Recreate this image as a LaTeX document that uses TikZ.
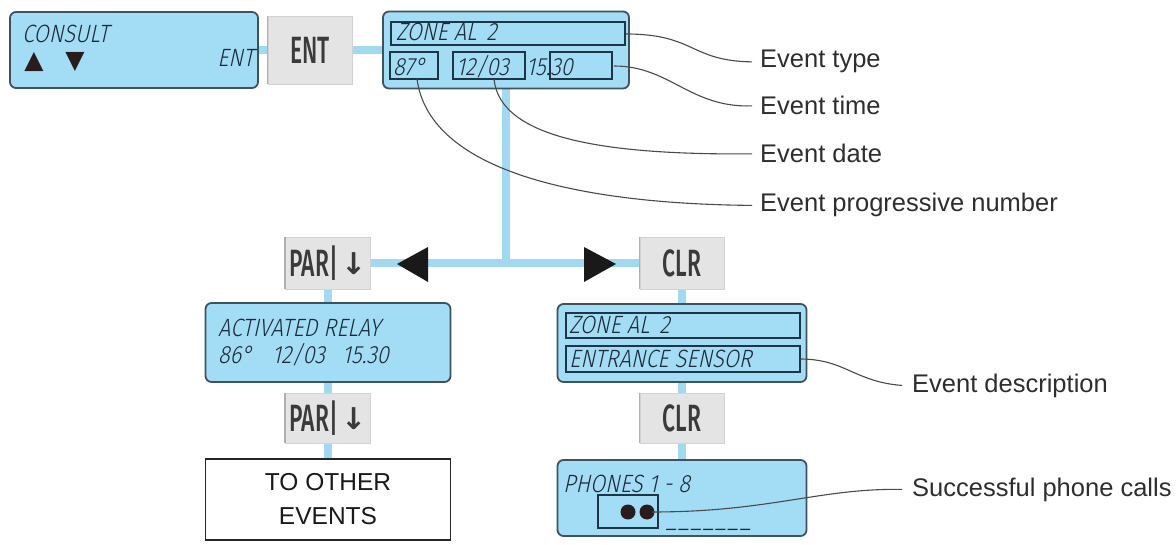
\documentclass[tikz,border=0pt]{standalone}
\usepackage{fontspec}
\usetikzlibrary{backgrounds}
\newfontfamily\lcdf{Fira Sans}[UprightFont={* Light},FakeSlant=0.22,FakeStretch=0.87]
\newfontfamily\labf{Liberation Sans}
\newfontfamily\btnf{Fira Sans}[UprightFont={* Medium},FakeStretch=0.6]
\newfontfamily\dvf{DejaVu Sans}
\definecolor{lcdfill}{HTML}{A3DCF5}
\definecolor{lcdborder}{HTML}{3E5260}
\definecolor{segline}{HTML}{1E3547}
\definecolor{lcdtxt}{HTML}{1B2A38}
\definecolor{wirecol}{HTML}{A2D9F1}
\definecolor{btnfill}{HTML}{E4E4E4}
\definecolor{btnline}{HTML}{D2D2D2}
\definecolor{btnedge}{HTML}{AFAFAF}
\definecolor{btntext}{HTML}{3A3A3A}
\definecolor{labtxt}{HTML}{2E2E2E}
\definecolor{leadcol}{HTML}{4A4A4A}
\definecolor{dotcol}{HTML}{2A1C1C}
\newcommand{\pardown}{PAR|\hspace{3pt}\raisebox{2pt}{\dvf\bfseries\fontsize{30}{30}\selectfont ↓}}
\begin{document}
\begin{tikzpicture}[x=1pt,y=-1pt,
  lcd/.style={draw=lcdborder,fill=lcdfill,line width=1.8pt,rounded corners=6pt,inner sep=0pt},
  btn/.style={fill=btnfill,draw=btnline,line width=0.8pt,inner sep=0pt,text=btntext,
    font=\btnf\fontsize{38}{38}\selectfont},
  seg/.style={draw=segline,line width=1.8pt},
  lcdtext/.style={font=\lcdf\fontsize{25}{28}\selectfont,text=lcdtxt,anchor=base west,inner sep=0pt},
  lab/.style={font=\labf\fontsize{25.5}{30}\selectfont,text=labtxt,anchor=base west,inner sep=0pt},
  lead/.style={draw=leadcol,line width=1.1pt},
  wire/.style={draw=wirecol,line width=8pt},
  arrowsym/.style={font=\dvf\fontsize{25}{25}\selectfont,text=dotcol,anchor=base,inner sep=0pt,
    text height=18pt,text depth=0pt},
  tri/.style={fill=black!90}]
\useasboundingbox (0,0) rectangle (1176,545);

% ---------- boxes ----------
\node[lcd,minimum width=248pt,minimum height=76pt] (consult) at (134,50) {};
\node[btn,minimum width=84pt,minimum height=68pt] (ent) at (310,50) {ENT};
\node[lcd,minimum width=246pt,minimum height=77pt] (zone1) at (506,50) {};
\node[btn,minimum width=85pt,minimum height=52pt] (par1) at (328,263) {\pardown};
\node[btn,minimum width=84pt,minimum height=52pt] (clr1) at (682,263) {CLR};
\node[lcd,minimum width=245pt,minimum height=79pt] (relay) at (328,342.5) {};
\node[btn,minimum width=85pt,minimum height=50pt] (par2) at (328,418) {\pardown};
\node[draw=black!85,fill=white,line width=1.3pt,minimum width=245pt,minimum height=81pt,
  align=center,font=\labf\fontsize{24.5}{34}\selectfont,text=black!90] (other) at (328,499.5)
  {TO OTHER\\EVENTS};
\node[lcd,minimum width=249pt,minimum height=78pt] (zone2) at (682,343) {};
\node[btn,minimum width=84pt,minimum height=50pt] (clr2) at (682,418) {CLR};
\node[lcd,minimum width=249pt,minimum height=76pt] (phones) at (682,498) {};

% button left edges
\foreach \b in {ent,par1,clr1,par2,clr2}
  \draw[btnedge,line width=1.5pt] (\b.north west) -- (\b.south west);

% ---------- wires ----------
\coordinate (junc) at (506,263);
\begin{scope}[on background layer]
  \draw[wire] (consult) -- (ent);
  \draw[wire] (ent) -- (zone1);
  \draw[wire] (zone1) -- (junc);
  \draw[wire] (par1) -- (clr1);
  \draw[wire] (par1) -- (relay);
  \draw[wire] (relay) -- (par2);
  \draw[wire] (par2) -- (other);
  \draw[wire] (clr1) -- (zone2);
  \draw[wire] (zone2) -- (clr2);
  \draw[wire] (clr2) -- (phones);
\end{scope}
\fill[tri] (397,264) -- (428,247) -- (428,282) -- cycle;
\fill[tri] (616,264) -- (584,247) -- (584,282) -- cycle;

% ---------- LCD texts ----------
\node[lcdtext] (t1) at (22,43) {CONSULT};
\node[arrowsym] (up) at (34,69) {▲};
\node[arrowsym] (dn) at (75,69) {▼};
\node[lcdtext,anchor=base east] (t2) at (254,67) {ENT};

\draw[seg] (391,22) rectangle (625,45);
\draw[seg] (390,52) rectangle (438,79);
\draw[seg] (453,52) rectangle (525,79);
\draw[seg] (550,52) rectangle (612,79);
\node[lcdtext] (z1a) at (396,41) {ZONE AL\hspace{10pt}2};
\node[lcdtext] (z1b) at (393,76) {87°};
\node[lcdtext] (z1c) at (456,76) {12/03};
\node[lcdtext] (z1d) at (526,76) {15.30};

\node[lcdtext] (r1) at (218,337) {ACTIVATED RELAY};
\node[lcdtext] (r2) at (218,363) {86°};
\node[lcdtext] (r3) at (272,363) {12/03};
\node[lcdtext] (r4) at (342,363) {15.30};

\draw[seg] (566,313) rectangle (800,338);
\draw[seg] (566,346) rectangle (800,372);
\node[lcdtext] (z2a) at (569,334) {ZONE AL\hspace{10pt}2};
\node[lcdtext] (z2b) at (569,368) {ENTRANCE SENSOR};

\node[lcdtext] (p1) at (563,492) {PHONES 1 - 8};
\draw[seg] (598,495) rectangle (658,528);
\fill[dotcol] (628,512) circle (7.5);
\fill[dotcol] (647,512) circle (7.5);
\node[lcdtext] (p2) at (666,527) {\_\hspace{1pt}\_\hspace{1pt}\_\hspace{1pt}\_\hspace{1pt}\_\hspace{1pt}\_\hspace{1pt}\_};

% ---------- labels ----------
\node[lab] (ltype) at (760,68) {Event type};
\node[lab] (ltime) at (760,115) {Event time};
\node[lab] (ldate) at (760,163) {Event date};
\node[lab] (lprog) at (760,212) {Event progressive number};
\node[lab] (ldesc) at (912,392) {Event description};
\node[lab] (lcall) at (912,496) {Successful phone calls};

\coordinate (stype) at (626,34);
\coordinate (stime) at (614,66);
\coordinate (sdate) at (494,79);
\coordinate (sprog) at (417,79);
\coordinate (sdesc) at (800,359);
\coordinate (scall) at (652,512);

\draw[lead] (stype) .. controls (695,34) and (690,61) .. ([xshift=-8pt]ltype.west);
\draw[lead] (stime) .. controls (670,66) and (690,108) .. ([xshift=-8pt]ltime.west);
\draw[lead] (sdate) .. controls (500,140) and (610,155) .. ([xshift=-8pt]ldate.west);
\draw[lead] (sprog) .. controls (430,175) and (590,204) .. ([xshift=-8pt]lprog.west);
\draw[lead] (sdesc) .. controls (845,359) and (855,382) .. ([xshift=-10pt]ldesc.west);
\draw[lead] (scall) .. controls (770,512) and (820,488) .. ([xshift=-10pt]lcall.west);
\end{tikzpicture}
\end{document}
